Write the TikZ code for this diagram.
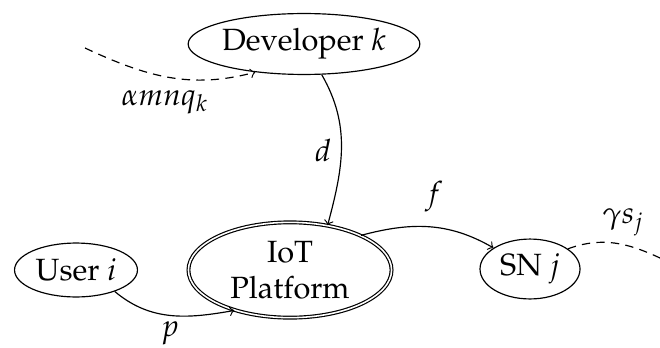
\documentclass[tikz,border=0pt]{standalone}
\usepackage[T1]{fontenc}
\usepackage{mathpazo}
\usetikzlibrary{shapes.geometric}
\begin{document}
\begin{tikzpicture}[x=0.384pt,y=-0.384pt,
  every node/.style={font=\fontsize{11.8}{14}\selectfont},
  ent/.style={draw,ellipse,inner sep=0pt,line width=0.45pt},
  conn/.style={->,line width=0.45pt},
  dconn/.style={line width=0.45pt,dash pattern=on 3.2pt off 2.4pt},
  lbl/.style={inner sep=0pt}]
\useasboundingbox (0,0) rectangle (660,347);
\node[ent,minimum width=87.6pt,minimum height=23.4pt] (dev) at (304,44) {Developer $k$};
\node[ent,minimum width=47.2pt,minimum height=20.7pt] (user) at (76,270) {User $i$};
\node[ent,double,minimum width=78pt,minimum height=36.6pt,align=center] (iot) at (290,270) {IoT\\Platform};
\node[ent,minimum width=38.4pt,minimum height=23pt] (sn) at (530,269) {SN $j$};
\coordinate (astart) at (85,48);
\coordinate (gend) at (660,258);
\draw[conn] (dev.-60) to[out=-60,in=75] (iot.50);
\draw[conn] (iot.26) to[out=15,in=150] (sn.150);
\draw[conn] (user.-29) to[out=-40,in=190] (iot.-144);
\draw[dconn,->] (astart) to[out=-25,in=195] (dev.210);
\draw[dconn] (sn.28) to[out=20,in=155] (gend);
\node[lbl] (ld) at (323,150) {$d$};
\node[lbl] (lf) at (434,197) {$f$};
\node[lbl] (lp) at (170,333) {$p$};
\node[lbl] (la) at (165,102) {$\alpha mnq_k$};
\node[lbl] (lg) at (623,222) {$\gamma s_j$};
\end{tikzpicture}
\end{document}
